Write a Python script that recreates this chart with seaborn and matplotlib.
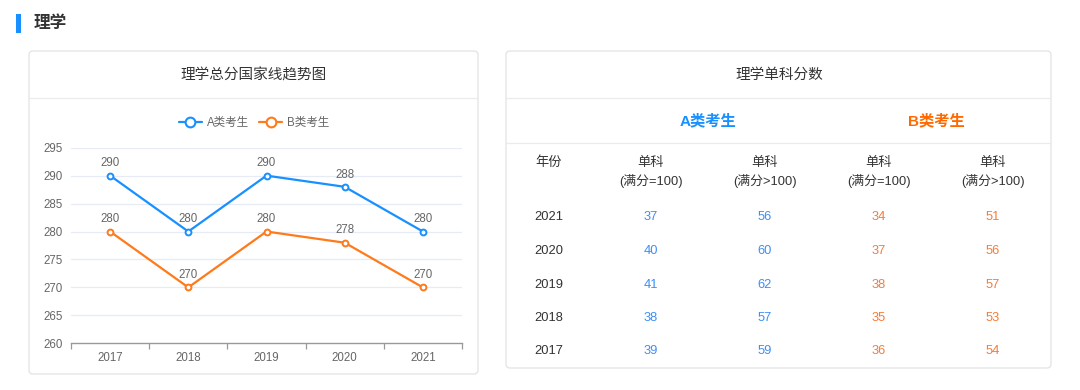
import numpy as np
import pandas as pd
import matplotlib
matplotlib.use("Agg")
import matplotlib.pyplot as plt
from matplotlib.patches import FancyBboxPatch, Rectangle
from matplotlib.lines import Line2D
import seaborn as sns

# =====================================================
# Data
# =====================================================

years = ["2017", "2018", "2019", "2020", "2021"]
a_total = [290, 280, 290, 288, 280]
b_total = [280, 270, 280, 278, 270]

table_years = ["2021", "2020", "2019", "2018", "2017"]
a_single_100 = [37, 40, 41, 38, 39]
a_single_over = [56, 60, 62, 57, 59]
b_single_100 = [34, 37, 38, 35, 36]
b_single_over = [51, 56, 57, 53, 54]

groups = ["A类考生", "B类考生"]
col_headers = ["单科\n(满分=100)", "单科\n(满分>100)", "单科\n(满分=100)", "单科\n(满分>100)"]

BLUE = "#1890ff"
ORANGE = "#ff7a1a"
TXT = "#333333"
GREY = "#666666"
BORDER = "#e3e3e3"

# =====================================================
# Style
# =====================================================

sns.set_theme(style="white")
# Latin/digits in an Arial-like face, CJK falls back to Noto
plt.rcParams["font.family"] = ["Liberation Sans", "Noto Sans CJK SC", "DejaVu Sans"]

W, H = 1080, 390
fig = plt.figure(figsize=(W / 100, H / 100), dpi=100)

# background axes in pixel coordinates
bg = fig.add_axes([0, 0, 1, 1])
bg.set_xlim(0, W)
bg.set_ylim(H, 0)
bg.axis("off")

# section title
bg.add_patch(Rectangle((16, 14), 5, 19, color=BLUE, lw=0))
bg.text(34, 23, "理学", fontsize=12, fontweight="bold", color=TXT, va="center", ha="left")

# cards
for (x0, y0, x1, y1) in [(29, 51, 478, 374), (506, 51, 1051, 368)]:
    bg.add_patch(FancyBboxPatch(
        (x0, y0), x1 - x0, y1 - y0,
        boxstyle="round,pad=0,rounding_size=4",
        fc="white", ec=BORDER, lw=0.9
    ))
bg.plot([29, 478], [97.5, 97.5], color="#ebebeb", lw=0.9)
bg.plot([506, 1051], [97.5, 97.5], color="#ebebeb", lw=0.9)
bg.plot([506, 1051], [143, 143], color="#ebebeb", lw=0.9)

bg.text(254, 75, "理学总分国家线趋势图", fontsize=10.5, color=TXT, ha="center", va="center")
bg.text(779, 75, "理学单科分数", fontsize=10.5, color=TXT, ha="center", va="center")

# =====================================================
# Line chart
# =====================================================

df = pd.DataFrame({
    "year": years * 2,
    "score": a_total + b_total,
    "group": [groups[0]] * len(years) + [groups[1]] * len(years),
})

ax = fig.add_axes([71 / W, 1 - 343.3 / H, 391 / W, (343.3 - 147.7) / H])
ax.set_facecolor("none")

sns.lineplot(
    data=df, x="year", y="score", hue="group",
    palette=[BLUE, ORANGE], marker="o", markersize=4.2,
    markerfacecolor="white", markeredgewidth=1.4,
    linewidth=1.6, legend=False, ax=ax, zorder=3
)
for line in ax.lines:
    line.set_markeredgecolor(line.get_color())

for vals in [a_total, b_total]:
    for i, v in enumerate(vals):
        ax.annotate(str(v), (i, v), xytext=(0, 4.5), textcoords="offset points",
                    ha="center", va="bottom", fontsize=8.3, color=GREY)

ax.set_xlim(-0.5, len(years) - 0.5)
ax.set_ylim(260, 295)
ax.set_yticks(np.arange(260, 296, 5))
ax.set_xticks(range(len(years)))
ax.set_xticklabels(years)
ax.set_xticks(np.arange(-0.5, len(years), 1), minor=True)
ax.set_xlabel("")
ax.set_ylabel("")

for y in np.arange(265, 296, 5):
    ax.axhline(y, color="#e6ebf5", lw=0.9, zorder=1)

for s in ["top", "right", "left"]:
    ax.spines[s].set_visible(False)
ax.spines["bottom"].set_color("#999999")
ax.spines["bottom"].set_linewidth(1.0)

ax.tick_params(axis="y", length=0, pad=6, labelsize=8.3, labelcolor=GREY)
ax.tick_params(axis="x", which="major", length=0, pad=6, labelsize=8.3, labelcolor=GREY)
ax.tick_params(axis="x", which="minor", bottom=True, length=4, width=0.9, color="#999999", direction="out")

handles = [
    Line2D([], [], color=c, lw=1.6, marker="o", markersize=7,
           markerfacecolor="white", markeredgewidth=1.5)
    for c in [BLUE, ORANGE]
]
fig.legend(
    handles, groups, loc="center", bbox_to_anchor=(254 / W, 1 - 123 / H),
    ncol=2, frameon=False, fontsize=8.3, handlelength=2.0,
    handletextpad=0.4, columnspacing=0.9, labelcolor=GREY
)

# =====================================================
# Table
# =====================================================

col_x = [549, 651, 765, 879, 993]
row_y = [217, 251, 285, 318, 351]

bg.text(708, 121, groups[0], fontsize=11, fontweight="bold", color=BLUE, ha="center", va="center")
bg.text(936, 121, groups[1], fontsize=11, fontweight="bold", color="#ff6a00", ha="center", va="center")

bg.text(col_x[0], 163, "年份", fontsize=9.5, color=TXT, ha="center", va="center")
for x, h in zip(col_x[1:], col_headers):
    top, bottom = h.split("\n")
    bg.text(x, 163, top, fontsize=9.5, color=TXT, ha="center", va="center")
    bg.text(x, 181, bottom, fontsize=9.3, color=TXT, ha="center", va="center")

columns = [
    (table_years, TXT),
    (a_single_100, "#3d8ef5"),
    (a_single_over, "#3d8ef5"),
    (b_single_100, "#f57c3a"),
    (b_single_over, "#f57c3a"),
]
for x, (vals, color) in zip(col_x, columns):
    for y, v in zip(row_y, vals):
        bg.text(x, y, str(v), fontsize=9.3, color=color, ha="center", va="center")

fig.savefig("out.png", dpi=100, facecolor="white")
